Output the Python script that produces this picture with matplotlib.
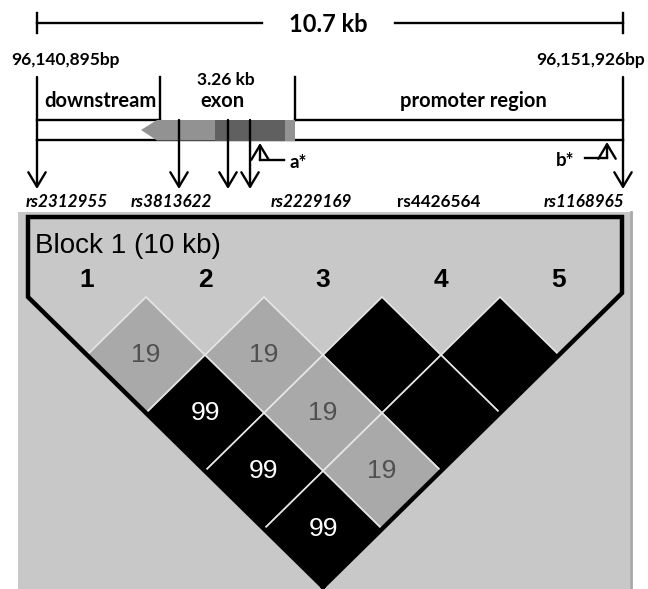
import matplotlib
matplotlib.use('Agg')
import matplotlib.pyplot as plt
from matplotlib.patches import Polygon, Rectangle, FancyArrowPatch

# region / gene data (kb from region start)
region_start_label = '96,140,895bp'
region_end_label = '96,151,926bp'
region_length_kb = 11.031
span_label = '10.7 kb'
exon_label = '3.26 kb'
downstream_end_kb = 2.315
exon_end_kb = 4.857
gene_tip_kb = 1.958
gene_body_kb = 2.259
dark_start_kb = 3.351
dark_end_kb = 4.668
region_names = ['downstream', 'exon', 'promoter region']

# SNPs
snp_kb = [0.0, 2.673, 3.595, 4.010, 11.031]
snp_names = ['rs2312955', 'rs3813622', 'rs2229169', 'rs4426564', 'rs1168965']
snp_italic = [True, True, True, False, True]
star_kb = [4.198, 10.730]
star_names = ['a*', 'b*']

# LD block
block_label = 'Block 1 (10 kb)'
markers = ['1', '2', '3', '4', '5']
ld_pairs = [(1, 2), (2, 3), (3, 4), (4, 5), (1, 3), (2, 4), (3, 5), (1, 4), (2, 5), (1, 5)]
ld_values = [19, 19, 100, 100, 99, 19, 100, 99, 19, 99]

# layout (pixels)
W, H = 648, 589
X0, X1 = 37, 623

def kx(kb):
    return X0 + kb / region_length_kb * (X1 - X0)

top_font = ['Lato', 'DejaVu Sans']
ld_font = ['Liberation Sans', 'DejaVu Sans']

fig = plt.figure(figsize=(W / 100, H / 100), dpi=100)
ax = fig.add_axes([0, 0, 1, 1])
ax.set_xlim(0, W)
ax.set_ylim(H, 0)
ax.axis('off')

lw = 1.7
# scale bar
ax.plot([X0, 262], [23, 23], color='k', lw=lw)
ax.plot([395, X1], [23, 23], color='k', lw=lw)
ax.plot([X0, X0], [13, 33], color='k', lw=lw)
ax.plot([X1, X1], [13, 33], color='k', lw=lw)
ax.text(328, 24, span_label, ha='center', va='center', fontsize=17,
        fontweight='bold', family=top_font)

ax.text(65, 60, region_start_label, ha='center', va='center', fontsize=12.5,
        fontweight='bold', family=top_font)
ax.text(591, 60, region_end_label, ha='center', va='center', fontsize=12.5,
        fontweight='bold', family=top_font)
ax.text(226, 80, exon_label, ha='center', va='center', fontsize=12.5,
        fontweight='bold', family=top_font)

# region boundaries
xd, xe = kx(downstream_end_kb), kx(exon_end_kb)
ax.plot([xd, xd], [77, 120], color='k', lw=lw)
ax.plot([xe, xe], [77, 120], color='k', lw=lw)
ax.plot([X0, xd], [120, 120], color='k', lw=lw)
ax.plot([xe, X1], [120, 120], color='k', lw=lw)
ax.plot([X0, X1], [140, 140], color='k', lw=lw)
for name, x in zip(region_names, [(X0 + xd) / 2 + 2, 222, 473]):
    ax.text(x, 101, name, ha='center', va='center', fontsize=14.5,
            fontweight='bold', family=top_font)

# gene bar
xt, xb = kx(gene_tip_kb), kx(gene_body_kb)
xs, xf = kx(dark_start_kb), kx(dark_end_kb)
ax.add_patch(Polygon([(xb, 120), (xs, 120), (xs, 140.5), (xb, 140.5), (xt, 130)],
                     closed=True, facecolor='#929292', edgecolor='none', zorder=3))
ax.add_patch(Rectangle((xs, 120), xf - xs, 20.5, facecolor='#606060',
                       edgecolor='none', zorder=3))
ax.add_patch(Rectangle((xf, 120), xe - xf, 20.5, facecolor='#939393',
                       edgecolor='none', zorder=3))

# snp arrows
def arrow(x, y0, y1):
    ax.add_patch(FancyArrowPatch((x, y0), (x, y1), arrowstyle='->,head_length=4,head_width=2.4',
                                 mutation_scale=2.6, color='k', lw=lw, zorder=4,
                                 shrinkA=0, shrinkB=0))

for i, kb in enumerate(snp_kb):
    y0 = 77 if i in (0, len(snp_kb) - 1) else 120
    arrow(kx(kb), y0, 189)

label_x = [67, 171, 311, 439, 584]
for name, x, it in zip(snp_names, label_x, snp_italic):
    ax.text(x, 202, name, ha='center', va='center', fontsize=12.3, fontweight='bold',
            style='italic' if it else 'normal', family=top_font)

# a*, b*
xa = kx(star_kb[0])
arrow(xa, 160, 143)
ax.plot([xa, xa + 24], [160, 160], color='k', lw=lw)
ax.text(xa + 29, 163, star_names[0], ha='left', va='center', fontsize=13.5,
        fontweight='bold', family=top_font)
xbs = kx(star_kb[1])
arrow(xbs, 158, 142)
ax.plot([xbs - 22, xbs], [158, 158], color='k', lw=lw)
ax.text(xbs - 42, 161, star_names[1], ha='center', va='center', fontsize=13.5,
        fontweight='bold', family=top_font)

# LD panel
ax.add_patch(Rectangle((18, 212), 612, H - 212, facecolor='#c8c8c8', edgecolor='none', zorder=0))
ax.plot([631, 631], [212, H], color='#a8a8a8', lw=2)

mx0, dx, hw = 87, 118, 59
row0, dy = 297, 58
for (i, j), v in zip(ld_pairs, ld_values):
    cx = mx0 + (i - 1 + j - 1) / 2 * dx
    cy = row0 + (j - i) * dy
    col = 'black' if v >= 99 else '#a9a9a9'
    ax.add_patch(Polygon([(cx - hw, cy), (cx, cy - dy), (cx + hw, cy), (cx, cy + dy)],
                         closed=True, facecolor=col, edgecolor='#e6e6e6', lw=1.2, zorder=2))
    if v < 100:
        ax.text(cx, cy, str(v), ha='center', va='center', fontsize=19,
                color='white' if v >= 99 else '#505050', family=ld_font, zorder=3)

# block outline
bx, by = mx0 + 2 * dx, row0 + 4 * dy + dy
left, right, top = 28, 622, 217
yl = by - (bx - left) * dy / hw
yr = by - (right - bx) * dy / hw
ax.plot([bx, left, left, right, right, bx], [by, yl, top, top, yr, by],
        color='k', lw=3.2, solid_joinstyle='miter', zorder=4)

ax.text(35, 246, block_label, ha='left', va='center', fontsize=20, family=ld_font)
for k, m in enumerate(markers):
    ax.text(mx0 + k * dx, 280, m, ha='center', va='center', fontsize=19,
            fontweight='bold', family=ld_font)

fig.savefig('out.png', dpi=100)
